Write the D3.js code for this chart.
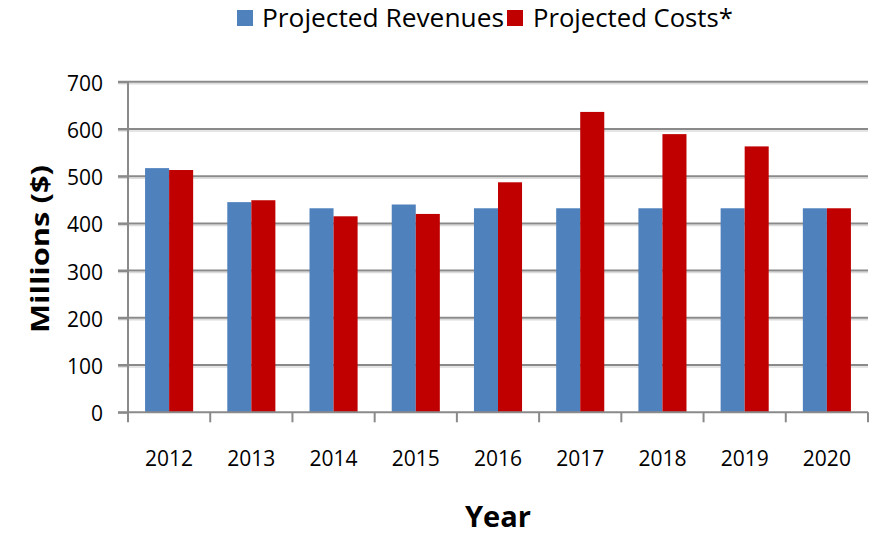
<!DOCTYPE html>
<html>
<head>
<meta charset="utf-8">
<script src="https://cdn.jsdelivr.net/npm/d3@7"></script>
<style>
  body { margin: 0; background: #fff; }
  text { font-family: "Open Sans", sans-serif; fill: #000; }
</style>
</head>
<body>
<div id="chart"></div>
<script>
// chart values
let years = ['2012', '2013', '2014', '2015', '2016', '2017', '2018', '2019', '2020'];
let seriesNames = ['Projected Revenues', 'Projected Costs*'];
let revenues = [517, 445, 432, 440, 432, 432, 432, 432, 432];
let costs = [513, 449, 415, 420, 487, 636, 589, 563, 432];
let yTicks = [0, 100, 200, 300, 400, 500, 600, 700];
let seriesColors = ['#4f81bd', '#c00000'];

let width = 872, height = 535;
let margin = {top: 82, left: 128, right: 4, bottom: 122};

let svg = d3.select('#chart')
  .append('svg')
    .attr('width', width)
    .attr('height', height);

// scales
let x = d3.scaleBand()
  .domain(years)
  .range([margin.left, width - margin.right])
  .padding(0);

let xSub = d3.scaleBand()
  .domain(seriesNames)
  .range([0, x.bandwidth()])
  .paddingInner(0)
  .paddingOuter(0.71);

let y = d3.scaleLinear()
  .domain([0, 700])
  .range([height - margin.bottom - 0.7, margin.top - 0.3]);

// gridlines with the faint shadow Excel draws beneath them
svg.append('g')
  .selectAll('line')
  .data(yTicks.slice(1))
  .enter()
  .append('line')
    .attr('x1', margin.left - 10)
    .attr('x2', width - margin.right)
    .attr('y1', d => y(d) + 2)
    .attr('y2', d => y(d) + 2)
    .style('stroke', '#dcdcdc')
    .style('stroke-width', 1.5);

svg.append('g')
  .selectAll('line')
  .data(yTicks.slice(1))
  .enter()
  .append('line')
    .attr('x1', margin.left - 10)
    .attr('x2', width - margin.right)
    .attr('y1', d => y(d))
    .attr('y2', d => y(d))
    .style('stroke', '#8a8a8a')
    .style('stroke-width', 2);

// bars
let rows = years.map((yr, i) => ({year: yr, values: [revenues[i], costs[i]]}));

svg.append('g')
  .selectAll('g')
  .data(rows)
  .enter()
  .append('g')
    .attr('transform', d => 'translate(' + x(d.year) + ',0)')
  .selectAll('rect')
  .data(d => d.values.map((v, j) => ({name: seriesNames[j], value: v, color: seriesColors[j]})))
  .enter()
  .append('rect')
    .attr('x', d => xSub(d.name))
    .attr('y', d => y(d.value))
    .attr('width', xSub.bandwidth())
    .attr('height', d => y(0) - y(d.value))
    .style('fill', d => d.color);

// y axis
let yAxis = svg.append('g')
  .attr('transform', 'translate(' + margin.left + ',0)')
  .call(d3.axisLeft(y).tickValues(yTicks).tickSize(10));
yAxis.select('.domain').remove();
yAxis.selectAll('line').style('stroke', '#8a8a8a').style('stroke-width', 2);
yAxis.selectAll('text')
  .style('font-size', '21px')
  .attr('dy', '0.4em')
  .attr('x', -25);
svg.append('line')
  .attr('x1', margin.left).attr('x2', margin.left)
  .attr('y1', y(700)).attr('y2', y(0))
  .style('stroke', '#8a8a8a')
  .style('stroke-width', 2);

// x axis
let xAxis = svg.append('g')
  .attr('transform', 'translate(0,' + y(0) + ')');
xAxis.append('line')
  .attr('x1', margin.left - 10).attr('x2', width - margin.right)
  .style('stroke', '#8a8a8a')
  .style('stroke-width', 2);
xAxis.selectAll('.tick')
  .data(years.concat(['end']))
  .enter()
  .append('line')
    .attr('x1', (d, i) => margin.left + i * x.step())
    .attr('x2', (d, i) => margin.left + i * x.step())
    .attr('y1', 0)
    .attr('y2', 10)
    .style('stroke', '#8a8a8a')
    .style('stroke-width', 2);
xAxis.selectAll('.lbl')
  .data(years)
  .enter()
  .append('text')
    .attr('x', d => x(d) + x.bandwidth() / 2)
    .attr('y', 54)
    .style('font-size', '21px')
    .style('text-anchor', 'middle')
    .text(d => d);

// axis titles
svg.append('text')
  .attr('transform', 'translate(49,249) rotate(-90)')
  .style('font-size', '25px')
  .style('font-weight', 'bold')
  .style('text-anchor', 'middle')
  .attr('textLength', 168)
  .attr('lengthAdjust', 'spacingAndGlyphs')
  .text('Millions ($)');

svg.append('text')
  .attr('x', 465)
  .attr('y', 527)
  .style('font-size', '29px')
  .style('font-weight', 'bold')
  .attr('textLength', 66)
  .attr('lengthAdjust', 'spacingAndGlyphs')
  .text('Year');

// legend, text fitted to the widths seen in the original
let legendItems = [
  {name: seriesNames[0], color: seriesColors[0], sx: 237, tx: 262, tw: 242},
  {name: seriesNames[1], color: seriesColors[1], sx: 507, tx: 533, tw: 200}
];
let legend = svg.append('g');
legend.selectAll('rect')
  .data(legendItems)
  .enter()
  .append('rect')
    .attr('x', d => d.sx)
    .attr('y', 10)
    .attr('width', 16)
    .attr('height', 16)
    .style('fill', d => d.color);
legend.selectAll('text')
  .data(legendItems)
  .enter()
  .append('text')
    .style('font-size', '25px')
    .text(d => d.name)
    .attr('transform', function(d) {
      let w = this.getComputedTextLength();
      return 'translate(' + d.tx + ',26.5) scale(' + (d.tw / w) + ',1)';
    });
</script>
</body>
</html>
